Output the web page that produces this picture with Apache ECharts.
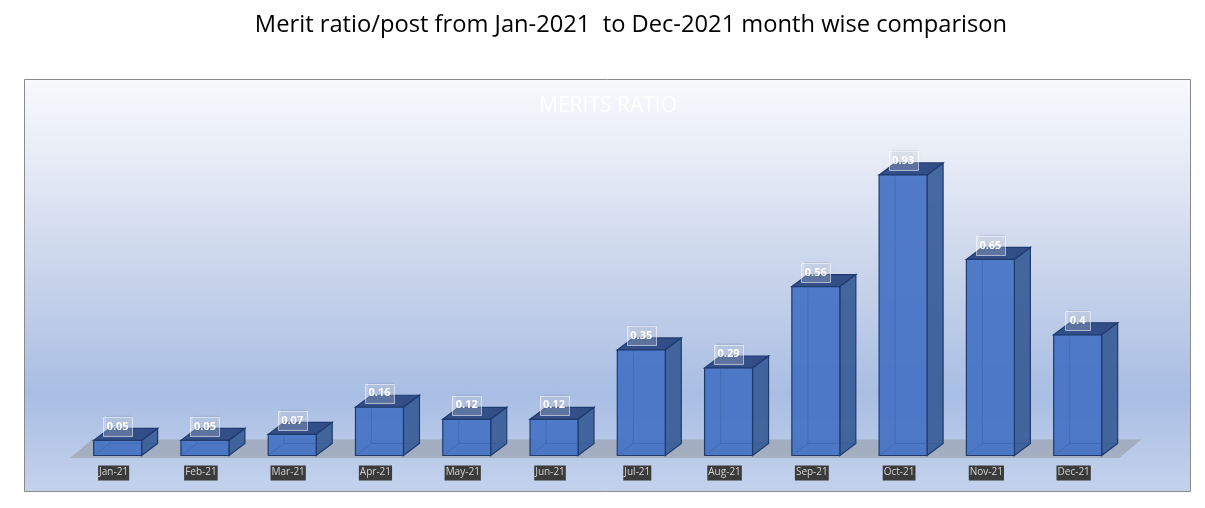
<!DOCTYPE html>
<html><head><meta charset="utf-8">
<style>html,body{margin:0;padding:0;background:#fff}#c{width:1205px;height:508px}</style>
<script src="https://cdn.jsdelivr.net/npm/echarts@6/dist/echarts.min.js"></script>
</head><body><div id="c"></div>
<script>
const categories = ['Jan-21','Feb-21','Mar-21','Apr-21','May-21','Jun-21','Jul-21','Aug-21','Sep-21','Oct-21','Nov-21','Dec-21'];
const meritRatio = [0.05,0.05,0.07,0.16,0.12,0.12,0.35,0.29,0.56,0.93,0.65,0.4];
const pageTitle = 'Merit ratio/post from Jan-2021  to Dec-2021 month wise comparison';
const chartTitle = 'MERITS RATIO';

const chart = echarts.init(document.getElementById('c'), null, {renderer:'canvas'});
const EDGE = '#1f3b6e';
const DX = 16, DY = 12, BW = 48, SHIFT = -20;

function poly(points, fill, stroke, z2){
  return {type:'polygon', z2, shape:{points}, style:{fill, stroke: stroke||'none', lineWidth: stroke?1.2:0}, silent:true};
}
function renderBar(params, api){
  const v = api.value(1);
  const base = api.coord([api.value(0), 0]);
  const top = api.coord([api.value(0), v]);
  const x0 = base[0] + SHIFT, x1 = x0 + BW, yb = base[1], yt = top[1];
  const cx = x0 + BW/2, cy = yt - 14;
  const hw = String(v).length > 3 ? 14.5 : 12.5;
  const inner = {stroke:'#2f5597',opacity:.32,lineWidth:1};
  const back = [
    {type:'polyline', z2:4, shape:{points:[[x0,yb],[x0+DX,yb-DY],[x1+DX,yb-DY]]}, style:{fill:'none',...inner}},
    {type:'line', z2:4, shape:{x1:x0+DX,y1:yb-DY,x2:x0+DX,y2:yt-DY}, style:inner}
  ];
  return {type:'group', children:[
    poly([[x0,yt],[x0+DX,yt-DY],[x1+DX,yt-DY],[x1,yt]], '#324e88', EDGE, 2),
    poly([[x1,yb],[x1+DX,yb-DY],[x1+DX,yt-DY],[x1,yt]], 'rgba(56,92,152,0.92)', EDGE, 2),
    poly([[x0,yb],[x1,yb],[x1,yt],[x0,yt]], 'rgba(68,114,196,0.92)', EDGE, 3),
    ...back,
    {type:'rect', z2:5, silent:true, shape:{x:cx-hw+3,y:cy-9.5-1,width:2*hw-3,height:18},
      style:{fill:'rgba(31,56,100,0.10)',shadowBlur:8,shadowColor:'rgba(31,56,100,0.35)'}},
    {type:'rect', z2:6, silent:true, shape:{x:Math.round(cx-hw)+.5,y:Math.round(cy-9.5)+.5,width:2*hw,height:19},
      style:{fill:'rgba(255,255,255,0.22)',stroke:'rgba(255,255,255,0.55)',lineWidth:1}},
    {type:'text', z2:7, silent:true, style:{
      x: cx, y: cy, text: String(v), align:'center', verticalAlign:'middle',
      fill:'#fff', font:'bold 11px "Open Sans"',
      shadowBlur:2, shadowColor:'rgba(20,40,80,0.7)'
    }}
  ]};
}
function renderFloor(params, api){
  const cs = params.coordSys;
  const y0 = cs.y + cs.height;
  const fy = y0 + 2.5, by = y0 - 16, L = cs.x, R = cs.x + cs.width;
  return poly([[L,fy],[R+2,fy],[R+24,by],[L+22,by]], 'rgba(128,128,128,0.38)', null, 0);
}

chart.setOption({
  animation:false,
  backgroundColor:'#ffffff',
  graphic:[{type:'rect', z:-10, silent:true,
    shape:{x:24.5,y:79.5,width:1166,height:412},
    style:{stroke:'#8a8a8a',lineWidth:1,fill:new echarts.graphic.LinearGradient(0,0,0,1,[
      {offset:0,color:'#f8f9fc'},{offset:0.2,color:'#e6ebf6'},{offset:0.5,color:'#c6d2ea'},
      {offset:0.76,color:'#a9bee4'},{offset:1,color:'#c4d2ec'}])}}],
  title:[
    {text:pageTitle,left:626,top:8,textAlign:'center',textStyle:{fontFamily:'Open Sans',fontSize:23.7,fontWeight:'normal',color:'#000'}},
    {text:chartTitle,left:603,top:91,textAlign:'center',textStyle:{fontFamily:'Open Sans',fontSize:21,fontWeight:'normal',color:'#fff'}}
  ],
  grid:{left:70,top:93.5,width:1047.3,height:362,containLabel:false},
  xAxis:{type:'category',data:categories,axisLine:{show:false},axisTick:{show:false},
    axisLabel:{interval:0,margin:10,color:'#d4d4d4',fontFamily:'Open Sans',fontSize:10,backgroundColor:'#3b3b3b',padding:[2,1,3,1]}},
  yAxis:{type:'value',min:0,max:1.2,show:false},
  series:[
    {type:'custom',name:'floor',renderItem:renderFloor,data:[[0,0]],z:1,silent:true,clip:false,encode:{x:0,y:1}},
    {type:'custom',name:'Merits ratio',renderItem:renderBar,data:meritRatio.map((v,i)=>[i,v]),z:2,silent:true,clip:false,encode:{x:0,y:1}}
  ]
});
</script></body></html>
